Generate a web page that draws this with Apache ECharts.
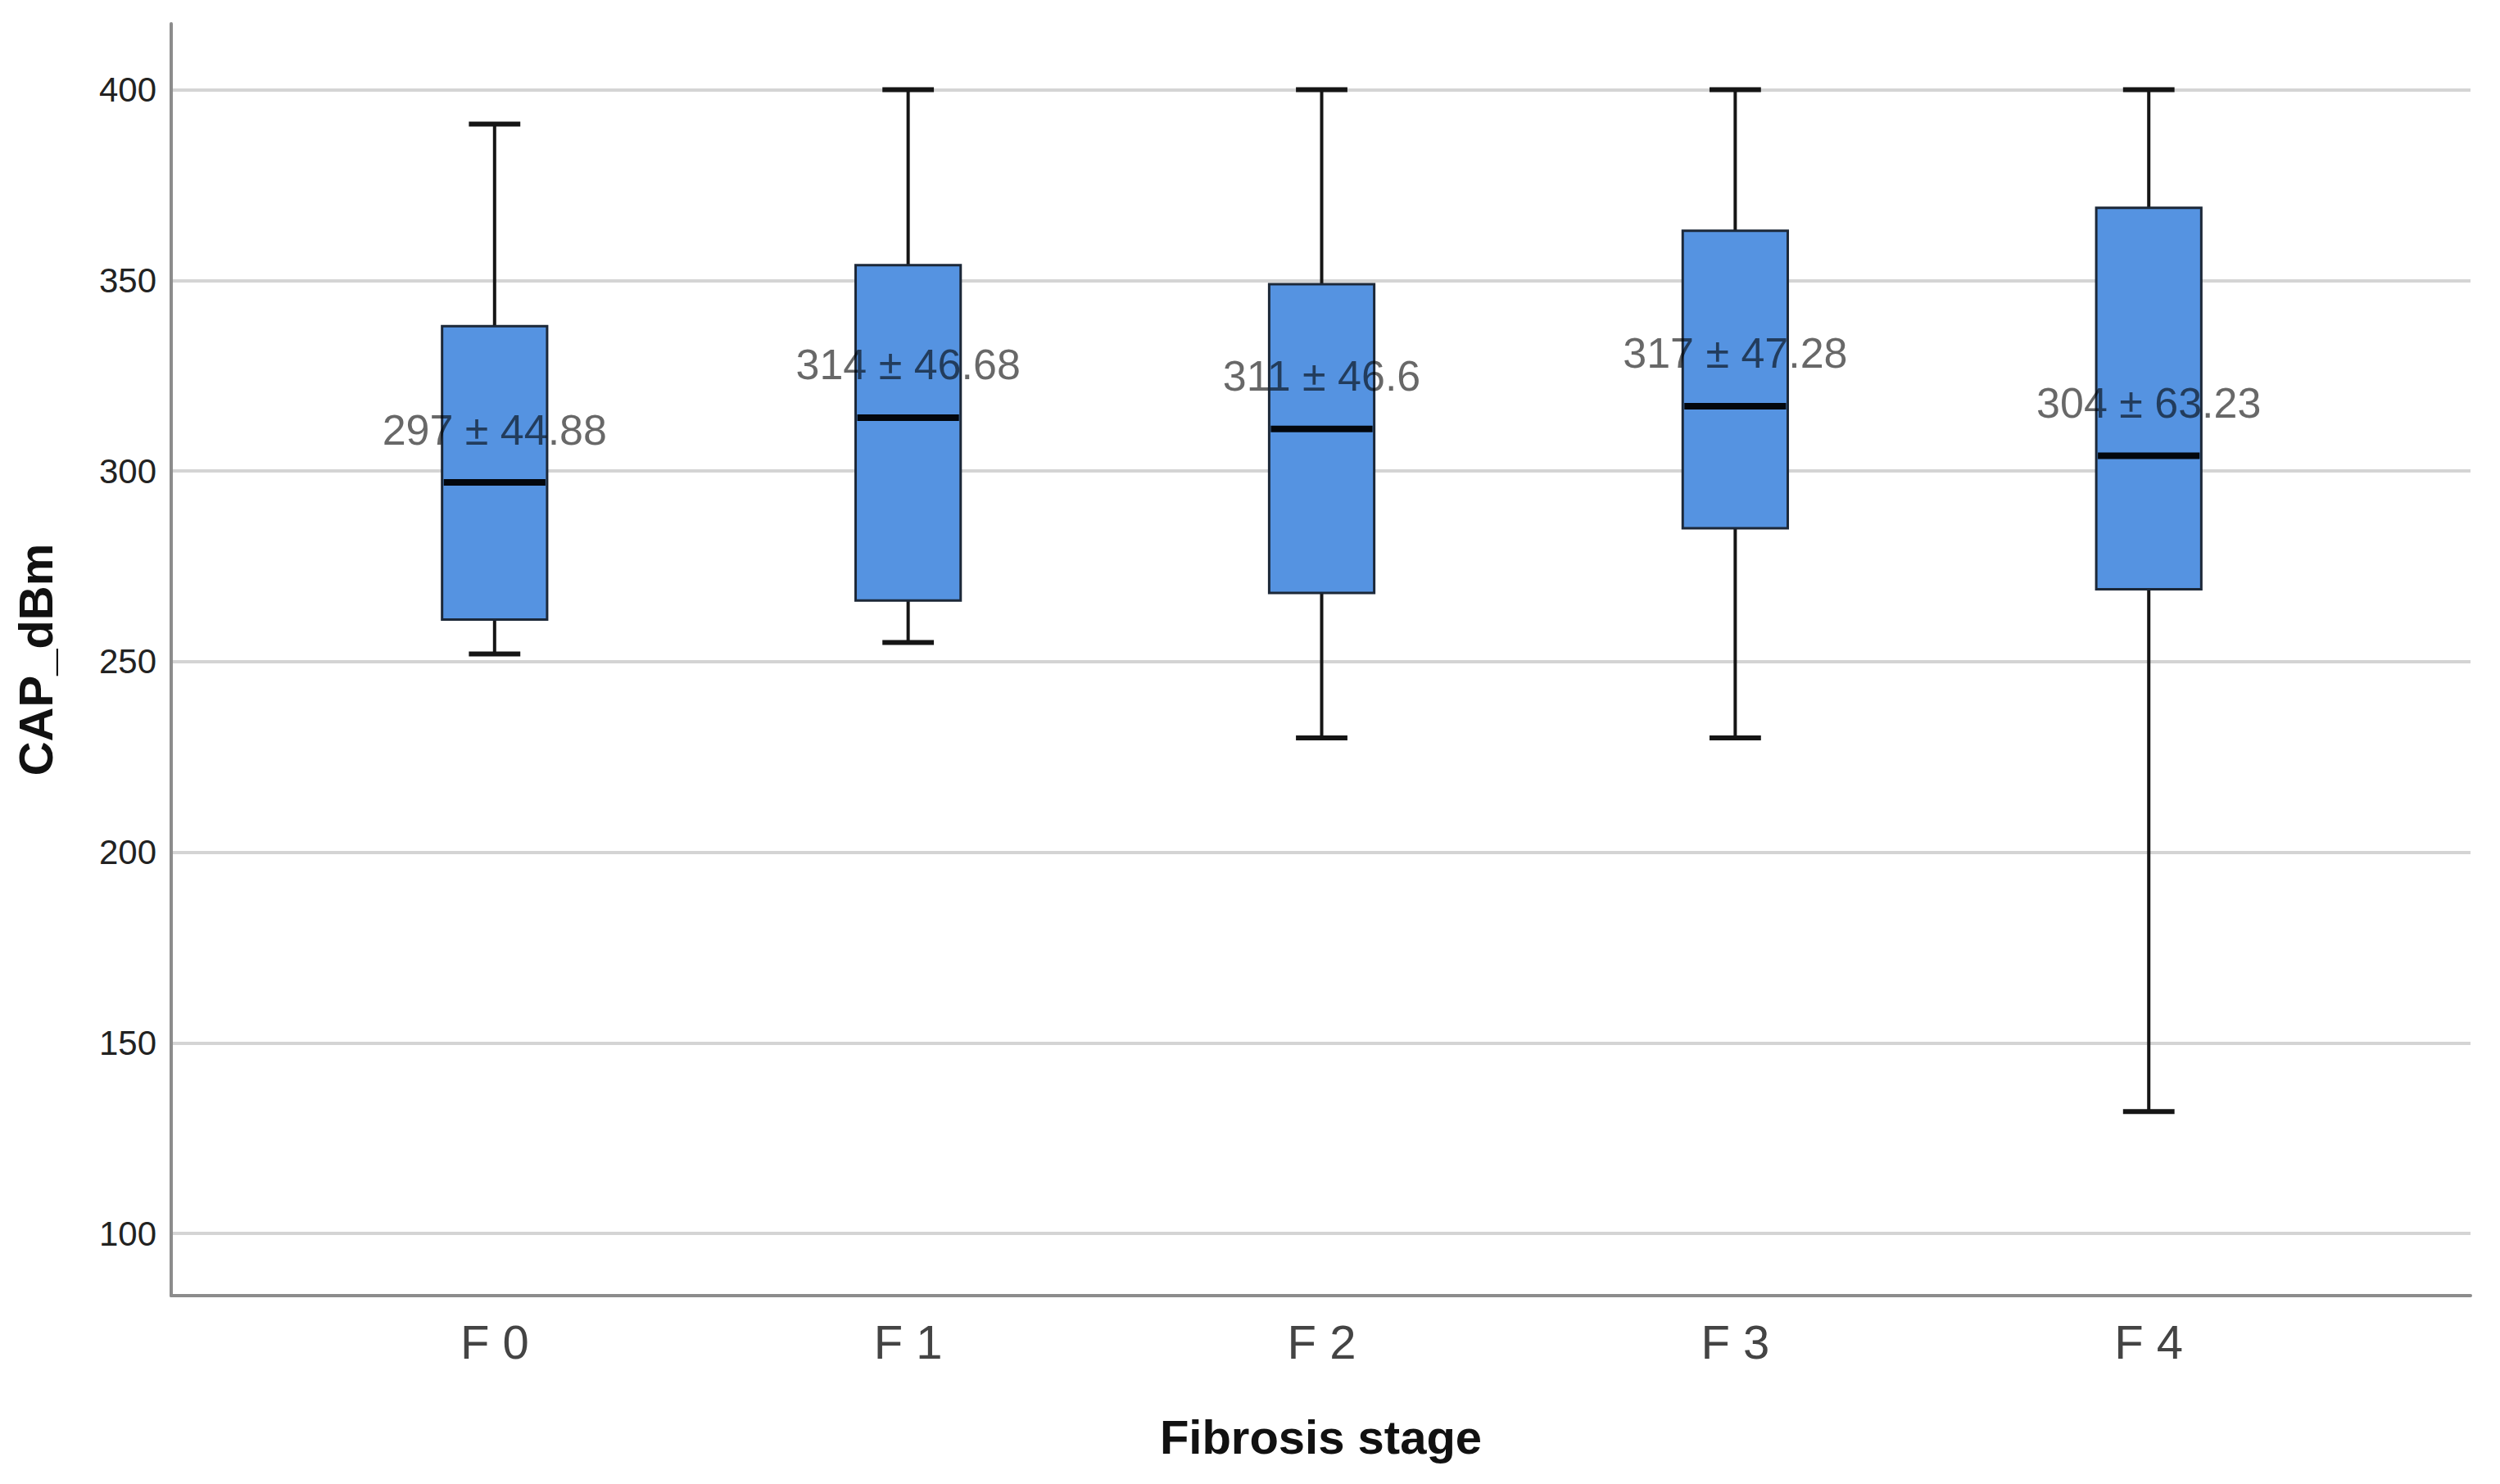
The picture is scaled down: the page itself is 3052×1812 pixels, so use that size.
<!DOCTYPE html>
<html><head><meta charset="utf-8">
<script src="https://cdn.jsdelivr.net/npm/echarts@6/dist/echarts.min.js"></script>
<style>html,body{margin:0;padding:0;background:#fff}#c{width:3052px;height:1812px}</style>
</head><body><div id="c"></div>
<script>
const categories = ['F 0', 'F 1', 'F 2', 'F 3', 'F 4'];
const whiskerLow = [252, 255, 230, 230, 132];
const q1 = [261, 266, 268, 285, 269];
const median = [297, 314, 311, 317, 304];
const q3 = [338, 354, 349, 363, 369];
const whiskerHigh = [391, 400, 400, 400, 400];
const sdText = ['44.88', '46.68', '46.6', '47.28', '63.23'];
const yTicks = [100, 150, 200, 250, 300, 350, 400];
const xPositions = [0, 1, 2, 3, 4];

const FONT = 'Liberation Sans, Arial, sans-serif';
const boxData = xPositions.map((x, i) => [x, whiskerLow[i], q1[i], median[i], q3[i], whiskerHigh[i]]);
const labelData = xPositions.map((x, i) => [x, median[i]]);
const labelText = median.map((m, i) => m + ' \u00B1 ' + sdText[i]);

function renderBox(params, api) {
  const x = api.value(0);
  const lo = api.coord([x, api.value(1)]);
  const b1 = api.coord([x, api.value(2)]);
  const md = api.coord([x, api.value(3)]);
  const b3 = api.coord([x, api.value(4)]);
  const hi = api.coord([x, api.value(5)]);
  const unit = api.size([1, 0])[0];
  const bw = unit * 0.254;
  const cw = bw * 0.49;
  const cx = md[0];
  const dark = '#151515';
  return {
    type: 'group',
    children: [
      { type: 'line', shape: { x1: cx, y1: hi[1], x2: cx, y2: b3[1] }, style: { stroke: dark, lineWidth: 4 } },
      { type: 'line', shape: { x1: cx, y1: b1[1], x2: cx, y2: lo[1] }, style: { stroke: dark, lineWidth: 4 } },
      { type: 'line', shape: { x1: cx - cw / 2, y1: hi[1], x2: cx + cw / 2, y2: hi[1] }, style: { stroke: dark, lineWidth: 6 } },
      { type: 'line', shape: { x1: cx - cw / 2, y1: lo[1], x2: cx + cw / 2, y2: lo[1] }, style: { stroke: dark, lineWidth: 6 } },
      { type: 'rect', shape: { x: cx - bw / 2, y: b3[1], width: bw, height: b1[1] - b3[1] }, style: { fill: '#5593e1', stroke: '#1c2838', lineWidth: 3 } },
      { type: 'line', shape: { x1: cx - bw / 2 + 2, y1: md[1], x2: cx + bw / 2 - 2, y2: md[1] }, style: { stroke: '#03070d', lineWidth: 8 } }
    ]
  };
}

const chart = echarts.init(document.getElementById('c'), null, { renderer: 'svg' });
chart.setOption({
  backgroundColor: '#ffffff',
  animation: false,
  grid: { left: 209, right: 36, top: 29, bottom: 230, containLabel: false, outerBoundsMode: 'none' },
  xAxis: {
    type: 'value',
    min: -0.782,
    max: 4.778,
    name: 'Fibrosis stage',
    nameLocation: 'middle',
    nameGap: 143,
    nameTextStyle: { fontFamily: FONT, fontSize: 58, fontWeight: 'bold', color: '#111' },
    axisLine: { show: true, onZero: false, lineStyle: { color: '#8c8c8c', width: 4 } },
    axisTick: { show: false, customValues: xPositions },
    splitLine: { show: false },
    axisLabel: {
      customValues: xPositions,
      formatter: v => categories[Math.round(v)],
      fontFamily: FONT, fontSize: 58, color: '#444', margin: 27
    }
  },
  yAxis: {
    type: 'value',
    min: 83.7,
    max: 417.3,
    name: 'CAP_dBm',
    nameLocation: 'middle',
    nameGap: 137,
    nameRotate: 90,
    nameTextStyle: { fontFamily: FONT, fontSize: 58, fontWeight: 'bold', color: '#111' },
    axisLine: { show: true, onZero: false, lineStyle: { color: '#8c8c8c', width: 4 } },
    axisTick: { show: false, customValues: yTicks },
    axisLabel: { customValues: yTicks, fontFamily: FONT, fontSize: 42, color: '#222', margin: 18 },
    splitLine: { show: true, lineStyle: { color: '#d4d4d4', width: 4 } }
  },
  series: [
    {
      type: 'custom',
      renderItem: renderBox,
      data: boxData,
      encode: { x: 0, y: [1, 2, 3, 4, 5] },
      z: 2
    },
    {
      type: 'scatter',
      data: labelData,
      symbol: 'circle',
      symbolSize: 1,
      itemStyle: { color: 'rgba(0,0,0,0)' },
      label: {
        show: true,
        position: 'top',
        distance: 38,
        formatter: p => labelText[p.dataIndex],
        fontFamily: FONT, fontSize: 52, color: 'rgba(0,0,0,0.74)'
      },
      z: 5
    }
  ]
});
</script></body></html>
